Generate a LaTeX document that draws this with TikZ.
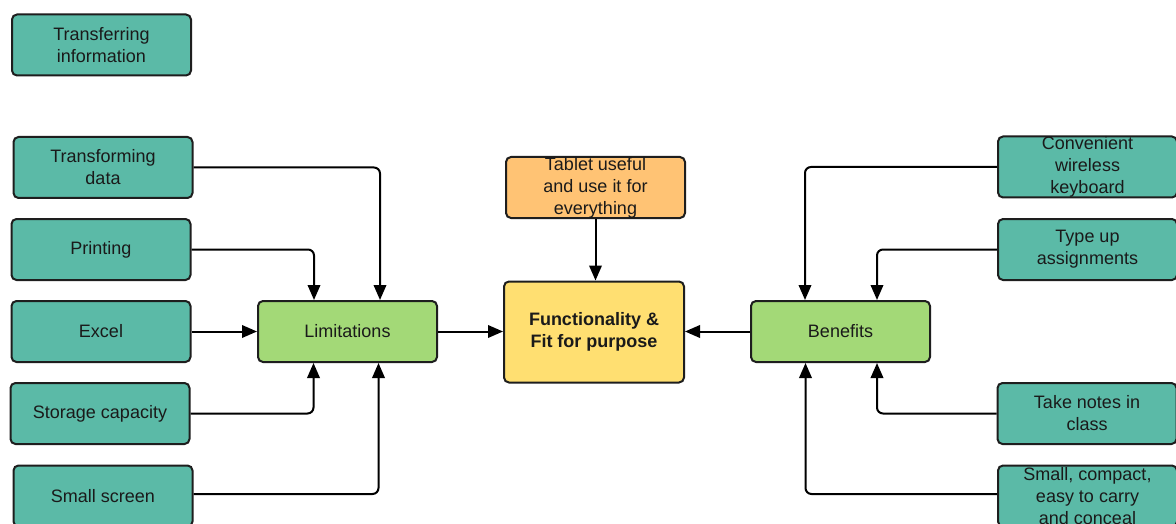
\documentclass[tikz,border=0pt]{standalone}
\usepackage{fontspec}
\setmainfont{Liberation Sans}
\usetikzlibrary{arrows.meta}
\definecolor{tealbox}{HTML}{5BBAA7}
\definecolor{greenbox}{HTML}{A3D977}
\definecolor{yellowbox}{HTML}{FFDF71}
\definecolor{orangebox}{HTML}{FFC374}
\definecolor{edge}{HTML}{1E1E1E}
\definecolor{ink}{HTML}{1A1A1A}
\tikzset{
  card/.style={rectangle, rounded corners=5pt, draw=edge, line width=2pt,
    minimum width=179pt, minimum height=61pt, align=center, inner sep=0pt,
    text=ink, font=\fontsize{18}{22}\selectfont},
  leaf/.style={card, fill=tealbox},
  hub/.style={card, fill=greenbox},
  core/.style={card, fill=yellowbox, minimum height=101pt, minimum width=180pt,
    font=\fontsize{18}{22}\selectfont\bfseries},
  idea/.style={card, fill=orangebox},
  conn/.style={draw=black, line width=2pt, rounded corners=6pt,
    -{Triangle[length=15pt,width=12.5pt]}}
}
\begin{document}
\begin{tikzpicture}[x=1pt,y=-1pt]
\clip (0,0) rectangle (1176,524);
\fill[white] (0,0) rectangle (1176,524);

% left column
\node[leaf] (transfer) at (101.5,45) {Transferring\\information};
\node[leaf] (transform) at (103,167.5) {Transforming\\data};
\node[leaf] (printing) at (101,249.5) {Printing};
\node[leaf] (excel) at (101,331.5) {Excel};
\node[leaf] (storage) at (100,413.5) {Storage capacity};
\node[leaf] (screen) at (103,496) {Small screen};

% centre
\node[hub] (lim) at (347.5,331.5) {Limitations};
\node[core] (fit) at (594,332) {Functionality \&\\Fit for purpose};
\node[idea] (tablet) at (595.5,187.5) {Tablet useful\\and use it for\\everything};
\node[hub] (ben) at (840.5,331.5) {Benefits};

% right column
\node[leaf] (keyboard) at (1087.5,167) {Convenient\\wireless\\keyboard};
\node[leaf] (typeup) at (1087.5,249.5) {Type up\\assignments};
\node[leaf] (notes) at (1087,413.5) {Take notes in\\class};
\node[leaf] (compact) at (1087.5,496) {Small, compact,\\easy to carry\\and conceal};

% limitations inputs
\draw[conn] (transform.east) -| ([xshift=32.5pt]lim.north);
\draw[conn] (printing.east) -| ([xshift=-33.5pt]lim.north);
\draw[conn] (excel.east) -- (lim.west);
\draw[conn] (storage.east) -| ([xshift=-34pt]lim.south);
\draw[conn] (screen.east |- 0,494) -| ([xshift=31pt]lim.south);

% into the core
\draw[conn] (lim.east) -- (lim.east -| fit.west);
\draw[conn] (tablet.south) -- (tablet.south |- fit.north);
\draw[conn] (ben.west) -- (ben.west -| fit.east);

% benefits inputs
\draw[conn] (keyboard.west) -| ([xshift=-35.5pt]ben.north);
\draw[conn] (typeup.west) -| ([xshift=36.5pt]ben.north);
\draw[conn] (notes.west) -| ([xshift=36.5pt]ben.south);
\draw[conn] (compact.west |- 0,494) -| ([xshift=-35pt]ben.south);
\end{tikzpicture}
\end{document}
